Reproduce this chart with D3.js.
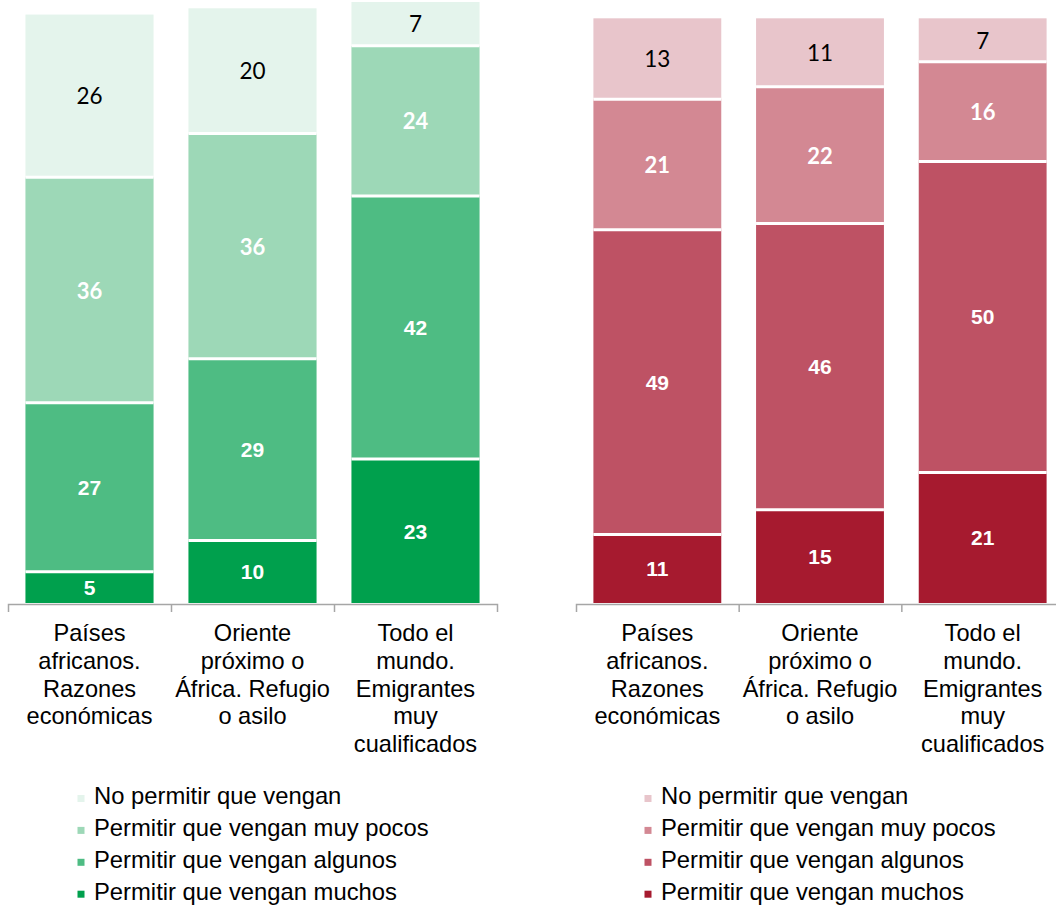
<!DOCTYPE html>
<html>
<head>
<meta charset="utf-8">
<script src="https://cdn.jsdelivr.net/npm/d3@7/dist/d3.min.js"></script>
<style>
  html, body { margin: 0; padding: 0; background: #fff; }
  svg { display: block; }
</style>
</head>
<body>
<svg id="chart" width="1056" height="911"></svg>
<script>
// Categories (each label split into its printed lines)
const categoryLines = [
  ["Países", "africanos.", "Razones", "económicas"],
  ["Oriente", "próximo o", "África. Refugio", "o asilo"],
  ["Todo el", "mundo.", "Emigrantes", "muy", "cualificados"]
];

// Series, stacked bottom to top
const seriesNames = [
  "Permitir que vengan muchos",
  "Permitir que vengan algunos",
  "Permitir que vengan muy pocos",
  "No permitir que vengan"
];

// Left panel values (%), one array per series, one value per category
const leftMuchos   = [5, 10, 23];
const leftAlgunos  = [27, 29, 42];
const leftMuyPocos = [36, 36, 24];
const leftNo       = [26, 20, 7];

// Right panel values (%)
const rightMuchos   = [11, 15, 21];
const rightAlgunos  = [49, 46, 50];
const rightMuyPocos = [21, 22, 16];
const rightNo       = [13, 11, 7];

const greenColors = ["#00A04D", "#4EBC83", "#9DD8B7", "#E4F4EC"];
const redColors   = ["#A61A2F", "#BE5264", "#D38893", "#E8C5CB"];

const svg = d3.select("#chart");

function drawPanel(opts) {
  const { values, colors, xRange, yTopPx, legendX } = opts;
  const n = categoryLines.length;
  const baseY = 603;

  const x = d3.scaleBand()
    .domain(d3.range(n))
    .range(xRange)
    .paddingInner(0.214)
    .paddingOuter(0.107);

  const y = d3.scaleLinear().domain([0, 100]).range([baseY, baseY - yTopPx]);

  // Build stack rows
  const rows = d3.range(n).map(i => {
    const r = {};
    seriesNames.forEach((s, k) => { r[s] = values[k][i]; });
    r.idx = i;
    return r;
  });
  const stacked = d3.stack().keys(seriesNames)(rows);

  const g = svg.append("g");

  stacked.forEach((layer, k) => {
    g.selectAll(null)
      .data(layer)
      .enter()
      .append("rect")
      .attr("x", d => x(d.data.idx))
      .attr("width", x.bandwidth())
      .attr("y", d => y(d[1]))
      .attr("height", d => y(d[0]) - y(d[1]))
      .attr("fill", colors[k]);
  });

  // white separators between segments
  stacked.slice(0, -1).forEach(layer => {
    g.selectAll(null)
      .data(layer)
      .enter()
      .append("line")
      .attr("x1", d => x(d.data.idx))
      .attr("x2", d => x(d.data.idx) + x.bandwidth())
      .attr("y1", d => y(d[1]))
      .attr("y2", d => y(d[1]))
      .attr("stroke", "#fff")
      .attr("stroke-width", 3);
  });

  // value labels
  const labelStyle = [
    { fam: "'Liberation Sans', Arial, sans-serif", w: 700, size: 21, fill: "#fff" },
    { fam: "'Liberation Sans', Arial, sans-serif", w: 700, size: 21, fill: "#fff" },
    { fam: "Lato, 'Open Sans', sans-serif", w: 700, size: 22, fill: "#fff" },
    { fam: "Lato, 'Open Sans', sans-serif", w: 400, size: 22.5, fill: "#000" }
  ];
  stacked.forEach((layer, k) => {
    const st = labelStyle[k];
    g.selectAll(null)
      .data(layer)
      .enter()
      .append("text")
      .attr("x", d => x(d.data.idx) + x.bandwidth() / 2)
      .attr("y", d => (y(d[0]) + y(d[1])) / 2)
      .attr("text-anchor", "middle")
      .attr("dominant-baseline", "central")
      .attr("font-family", st.fam)
      .attr("font-weight", st.w)
      .attr("font-size", st.size)
      .attr("fill", st.fill)
      .text(d => d.data[seriesNames[k]]);
  });

  // category axis with ticks at band boundaries
  const edge = d3.scaleLinear().domain([0, n]).range(xRange);
  const axis = d3.axisBottom(edge)
    .tickValues(d3.range(1, n))
    .tickSize(8)
    .tickSizeOuter(8)
    .tickFormat("");
  const ag = g.append("g").attr("transform", `translate(0,${baseY + 1})`).call(axis);
  ag.selectAll("path, line").attr("stroke", "#A6A6A6").attr("stroke-width", 1.5);

  // category labels
  categoryLines.forEach((lines, i) => {
    const t = g.append("text")
      .attr("text-anchor", "middle")
      .attr("font-family", "'Liberation Sans', Arial, sans-serif")
      .attr("font-size", 23.6)
      .attr("fill", "#000");
    lines.forEach((ln, j) => {
      t.append("tspan")
        .attr("x", x(i) + x.bandwidth() / 2)
        .attr("y", 641 + j * 27.8)
        .text(ln);
    });
  });

  // legend, top entry is the last series
  const legendOrder = seriesNames.map((s, k) => ({ s, c: colors[k] })).reverse();
  const lg = g.append("g");
  legendOrder.forEach((d, j) => {
    const by = 804 + j * 31.9;
    lg.append("rect")
      .attr("x", legendX)
      .attr("y", by - 9)
      .attr("width", 7)
      .attr("height", 7)
      .attr("fill", d.c);
    lg.append("text")
      .attr("x", legendX + 16.5)
      .attr("y", by)
      .attr("font-family", "'Liberation Sans', Arial, sans-serif")
      .attr("font-size", 23.8)
      .attr("fill", "#000")
      .text(d.s);
  });
}

drawPanel({
  values: [leftMuchos, leftAlgunos, leftMuyPocos, leftNo],
  colors: greenColors,
  xRange: [8, 497],
  yTopPx: 626,
  legendX: 77.5
});

drawPanel({
  values: [rightMuchos, rightAlgunos, rightMuyPocos, rightNo],
  colors: redColors,
  xRange: [576, 1064],
  yTopPx: 622,
  legendX: 644.5
});
</script>
</body>
</html>
